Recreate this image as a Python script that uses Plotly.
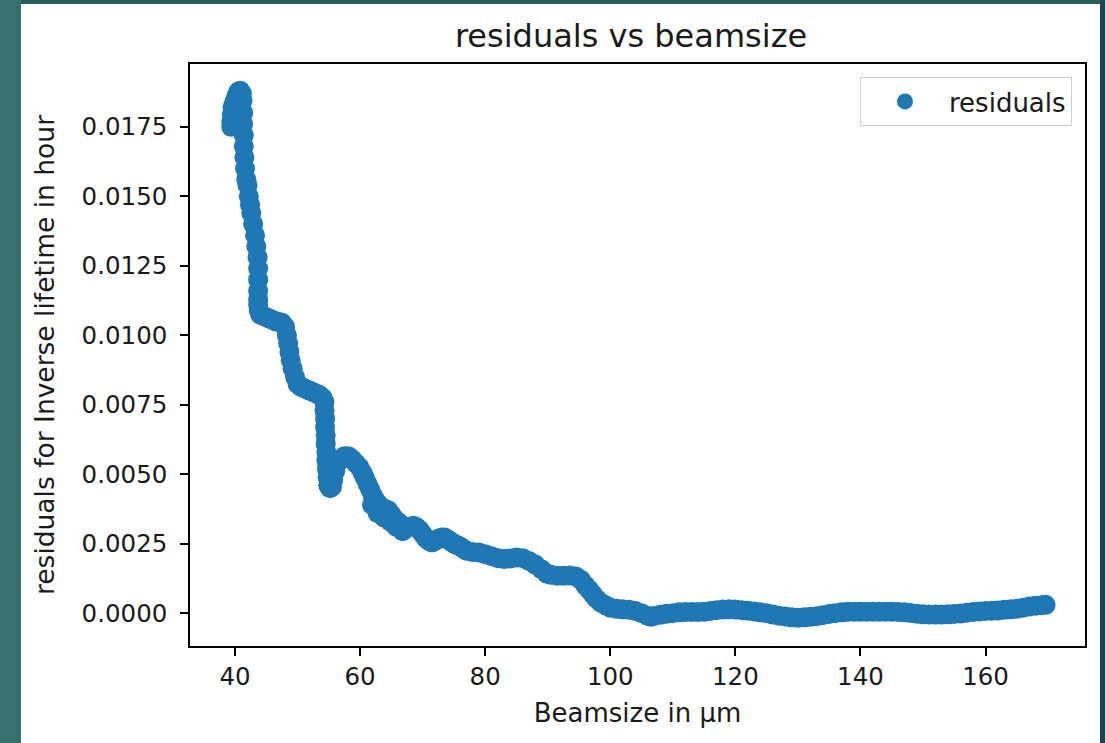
import plotly.graph_objects as go

# ---- data ----
beamsize_um = [
    39.4, 39.4, 39.5, 39.6, 39.9, 40.2, 40.5, 40.8, 41.1, 41.2, 41.0, 40.7, 40.4, 40.1,
    41.3, 41.3, 41.4, 41.4, 41.5, 41.6, 41.8, 42.0, 42.2, 42.4, 42.6, 42.9, 43.2, 43.4,
    43.6, 43.7, 43.7, 43.7, 43.7, 43.7, 43.8, 44.0,
    44.5, 45.0, 45.5, 46.0, 46.5, 47.0, 47.5, 48.0, 48.3, 48.5, 48.7, 48.9, 49.2, 49.6,
    50.0, 50.5, 51.0, 51.5, 52.0, 52.5, 53.0, 53.5, 54.0,
    54.3, 54.3, 54.4, 54.4, 54.5, 54.5, 54.6, 54.6, 54.7, 54.8, 54.9, 55.2, 55.5, 55.7,
    56.0, 56.4, 56.9, 57.5, 58.1, 58.7, 59.3, 59.9, 60.4, 60.8, 61.2, 61.6, 62.0, 62.5,
    63.0, 63.5, 64.0, 64.5, 65.0, 65.5, 66.0, 66.5, 67.0, 67.5, 68.0, 68.5, 69.0, 69.5,
    70.0, 70.5, 71.0, 71.5, 72.0, 72.5, 73.0, 73.5, 74.0, 74.5, 75.0, 75.5, 76.0, 76.5,
    77.0, 78.0, 79.0, 80.0, 81.0, 82.0, 83.0, 84.0, 85.0, 86.0, 87.0, 88.0, 89.0, 89.8,
    90.5, 91.5, 92.5, 93.5, 94.5, 95.3, 96.0, 96.6, 97.2, 97.8, 98.5, 99.3, 100.0,
    101.0, 102.0, 103.0, 104.0, 105.0, 106.0, 106.5, 107.0, 108.0, 109.0, 110.0,
    111.0, 112.0, 113.0, 114.0, 115.0, 116.0, 117.0, 118.0, 119.0, 120.0,
    121.0, 122.0, 123.0, 124.0, 125.0, 126.0, 127.0, 128.0, 129.0, 130.0,
    131.0, 132.0, 133.0, 134.0, 135.0, 136.0, 137.0, 138.0, 139.0, 140.0,
    141.0, 142.0, 143.0, 144.0, 145.0, 146.0, 147.0, 148.0, 149.0, 150.0,
    151.0, 152.0, 153.0, 154.0, 155.0, 156.0, 157.0, 158.0, 159.0, 160.0,
    161.0, 162.0, 163.0, 164.0, 165.0, 166.0, 167.0, 168.0, 169.0, 169.6,
    61.9, 62.8, 63.8, 64.8, 65.8, 66.8,
]

residuals = [
    0.01750, 0.01770, 0.01795, 0.01820, 0.01840, 0.01860, 0.01875, 0.01880, 0.01870, 0.01845, 0.01820, 0.01800, 0.01780, 0.01765,
    0.01800, 0.01760, 0.01720, 0.01680, 0.01640, 0.01600, 0.01560, 0.01540, 0.01500, 0.01470, 0.01440, 0.01400, 0.01360, 0.01320,
    0.01280, 0.01240, 0.01200, 0.01160, 0.01130, 0.01110, 0.01090, 0.01075,
    0.01070, 0.01065, 0.01060, 0.01055, 0.01050, 0.01048, 0.01045, 0.01030, 0.01000, 0.00970, 0.00940, 0.00910, 0.00880, 0.00850,
    0.00825, 0.00815, 0.00810, 0.00805, 0.00800, 0.00795, 0.00790, 0.00785, 0.00775,
    0.00760, 0.00730, 0.00700, 0.00670, 0.00640, 0.00610, 0.00580, 0.00550, 0.00520, 0.00490, 0.00460, 0.00450, 0.00455, 0.00480,
    0.00510, 0.00540, 0.00555, 0.00565, 0.00565, 0.00555, 0.00540, 0.00525, 0.00505, 0.00485, 0.00465, 0.00445, 0.00425, 0.00405,
    0.00390, 0.00380, 0.00375, 0.00370, 0.00355, 0.00340, 0.00330, 0.00320, 0.00312, 0.00310, 0.00310, 0.00315, 0.00310, 0.00300,
    0.00285, 0.00270, 0.00260, 0.00255, 0.00260, 0.00268, 0.00272, 0.00272, 0.00265, 0.00258, 0.00250, 0.00245, 0.00240, 0.00232,
    0.00225, 0.00220, 0.00218, 0.00212, 0.00205, 0.00198, 0.00195, 0.00197, 0.00200, 0.00198, 0.00188, 0.00175, 0.00158, 0.00143,
    0.00138, 0.00135, 0.00135, 0.00136, 0.00132, 0.00120, 0.00100, 0.00085, 0.00068, 0.00052, 0.00038, 0.00028, 0.00020,
    0.00016, 0.00014, 0.00012, 0.00008, 0.00000, -0.00010, -0.00013, -0.00010, -0.00006, -0.00002, 0.00000,
    0.00003, 0.00004, 0.00004, 0.00004, 0.00005, 0.00008, 0.00011, 0.00013, 0.00014, 0.00013,
    0.00011, 0.00009, 0.00006, 0.00003, 0.00000, -0.00005, -0.00009, -0.00012, -0.00015, -0.00016,
    -0.00015, -0.00013, -0.00011, -0.00007, -0.00003, 0.00000, 0.00003, 0.00005, 0.00005, 0.00005,
    0.00005, 0.00005, 0.00005, 0.00005, 0.00005, 0.00004, 0.00003, 0.00001, -0.00002, -0.00004,
    -0.00005, -0.00005, -0.00005, -0.00004, -0.00003, -0.00001, 0.00002, 0.00004, 0.00006, 0.00008,
    0.00009, 0.00010, 0.00012, 0.00014, 0.00016, 0.00020, 0.00024, 0.00027, 0.00029, 0.00030,
    0.00390, 0.00360, 0.00345, 0.00330, 0.00310, 0.00295,
]

x_ticks = [40, 60, 80, 100, 120, 140, 160]
y_ticks = [0.0, 0.0025, 0.005, 0.0075, 0.01, 0.0125, 0.015, 0.0175]
y_tick_labels = ["0.0000", "0.0025", "0.0050", "0.0075", "0.0100", "0.0125", "0.0150", "0.0175"]

title_text = "residuals vs beamsize"
x_label = "Beamsize in µm"
y_label = "residuals for Inverse lifetime in hour"
series_name = "residuals"

# ---- figure ----
W, H = 1105, 743
ML, MR, MT, MB = 190, 20, 64, 97
PW, PH = W - ML - MR, H - MT - MB

def px_x(p):
    return (p - ML) / PW

def px_y(p):
    return (H - MB - p) / PH

FONT = "DejaVu Sans"
TXT = "#1a1a1a"

fig = go.Figure()
fig.add_trace(go.Scatter(
    x=beamsize_um, y=residuals, mode="markers", name=series_name,
    marker=dict(color="#1f77b4", size=20, line=dict(width=0)),
))

shapes = [
    dict(type="rect", xref="paper", yref="paper", layer="below",
         x0=px_x(21), x1=px_x(1100), y0=px_y(743), y1=px_y(4),
         fillcolor="white", line=dict(width=0)),
    dict(type="rect", xref="paper", yref="paper", layer="below",
         x0=px_x(1100), x1=px_x(1105), y0=px_y(743), y1=px_y(0),
         fillcolor="#1b4450", line=dict(width=0)),
    dict(type="rect", xref="paper", yref="paper", layer="below",
         x0=px_x(21), x1=px_x(1100), y0=px_y(4), y1=px_y(0),
         fillcolor="#2a5c5c", line=dict(width=0)),
]

fig.update_layout(
    width=W, height=H, autosize=False,
    margin=dict(l=ML, r=MR, t=MT, b=MB, pad=0),
    paper_bgcolor="#35706a",
    plot_bgcolor="white",
    font=dict(family=FONT, color=TXT, size=24),
    title=dict(text=title_text, font=dict(size=32, family=FONT, color=TXT),
               x=631 / W, xref="container", xanchor="center",
               y=1 - 36 / H, yref="container", yanchor="middle"),
    showlegend=True,
    legend=dict(x=px_x(1072), y=px_y(77), xanchor="right", yanchor="top",
                bgcolor="white", bordercolor="#cccccc", borderwidth=1,
                font=dict(size=26, family=FONT, color=TXT), itemwidth=78),
    shapes=shapes,
)

fig.update_xaxes(
    range=[32.8, 175.9], tickvals=x_ticks, ticks="outside", ticklen=8, tickwidth=1.5,
    tickcolor="black", showline=True, linecolor="black", linewidth=1.5, mirror=True,
    showgrid=False, zeroline=False, tickfont=dict(size=24.5, family=FONT, color=TXT),
    title=dict(text=x_label, font=dict(size=26, family=FONT, color=TXT), standoff=14),
)
fig.update_yaxes(
    range=[-0.00118, 0.01976], tickvals=y_ticks, ticktext=y_tick_labels,
    ticks="outside", ticklen=8, tickwidth=1.5, tickcolor="black",
    showline=True, linecolor="black", linewidth=1.5, mirror=True,
    showgrid=False, zeroline=False, tickfont=dict(size=24.5, family=FONT, color=TXT),
    ticklabelstandoff=8,
    title=dict(text=y_label, font=dict(size=26.5, family=FONT, color=TXT), standoff=19),
)

fig.write_html("out.html")
